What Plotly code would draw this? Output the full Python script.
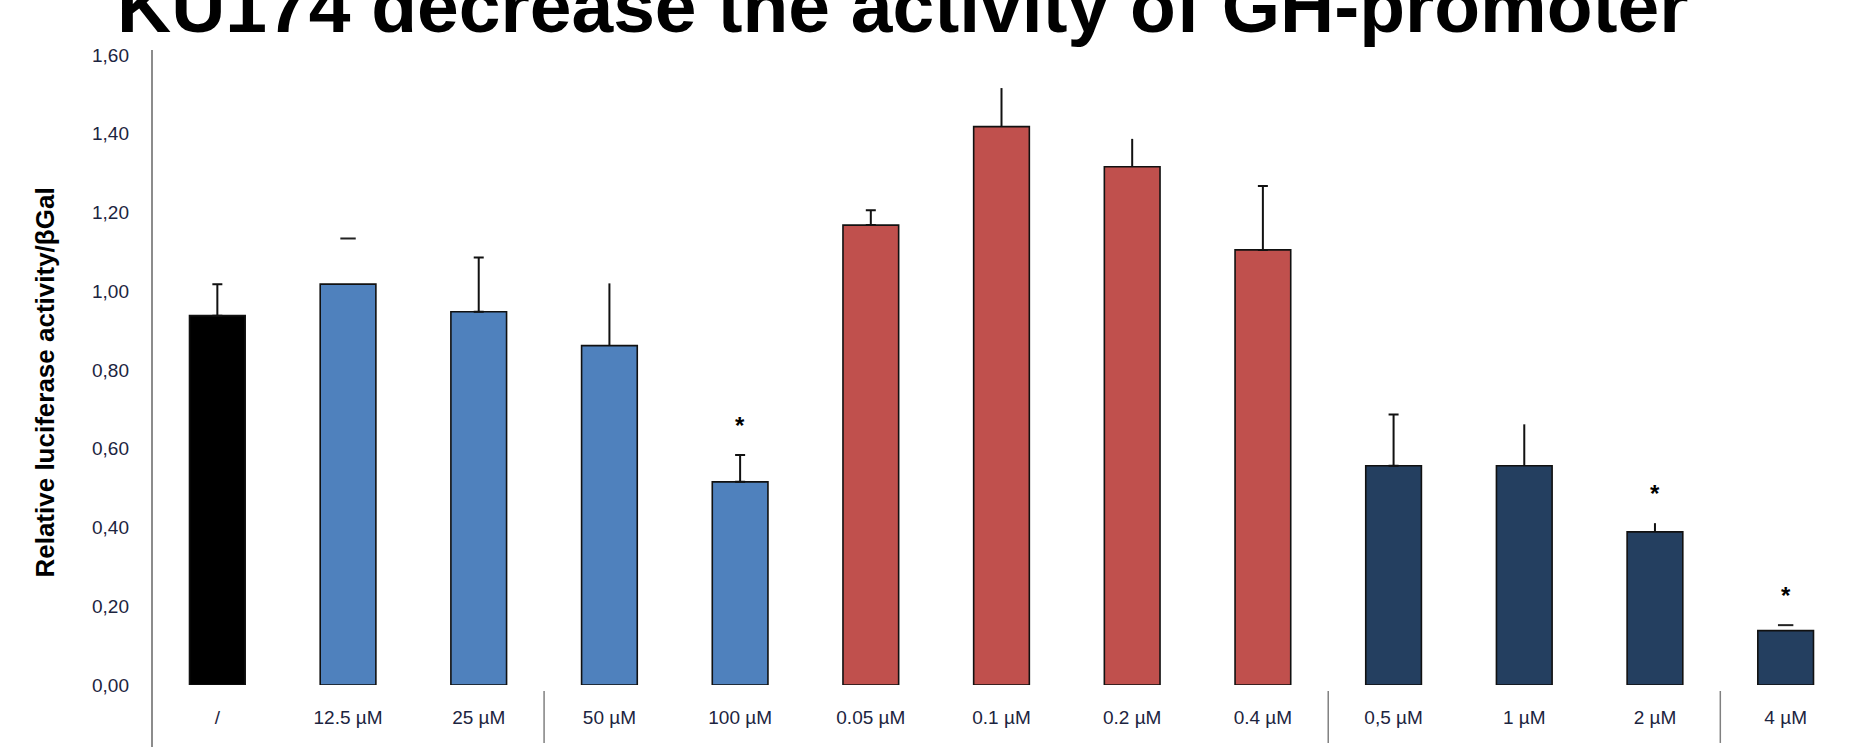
import plotly.graph_objects as go

# ---- data ----
categories = ["/", "12.5 µM", "25 µM", "50 µM", "100 µM", "0.05 µM", "0.1 µM",
              "0.2 µM", "0.4 µM", "0,5 µM", "1 µM", "2 µM", "4 µM"]
values = [0.938, 1.018, 0.948, 0.862, 0.516, 1.168, 1.418, 1.316, 1.105,
          0.557, 0.557, 0.389, 0.138]
errors = [0.080, 0.116, 0.138, 0.158, 0.068, 0.038, 0.098, 0.071, 0.162,
          0.130, 0.105, 0.022, 0.014]
# error bar style per bar: "cap" = whisker with cap, "line" = whisker w/o cap, "dash" = cap only
err_style = ["cap", "dash", "cap", "line", "cap", "cap", "line", "line", "cap",
             "cap", "line", "line", "dash"]
significant = [False, False, False, False, True, False, False, False, False,
               False, False, True, True]
group = ["ctrl", "a", "a", "a", "a", "b", "b", "b", "b", "c", "c", "c", "c"]
group_colors = {"ctrl": "#000000", "a": "#4F81BD", "b": "#C0504D", "c": "#243F60"}
separators_after = [2, 8, 11]
y_ticks = [0, 0.2, 0.4, 0.6, 0.8, 1.0, 1.2, 1.4, 1.6]
title_text = "KU174 decrease the activity of GH-promoter"
y_title = "Relative luciferase activity/βGal"

fig = go.Figure()

fig.add_trace(go.Bar(
    x=categories, y=values, width=0.426,
    marker=dict(color=[group_colors[g] for g in group],
                line=dict(color="#111111", width=1.6)),
    showlegend=False, hoverinfo="x+y",
))

for style, w in (("cap", 5), ("line", 0)):
    idx = [i for i, s in enumerate(err_style) if s == style]
    fig.add_trace(go.Scatter(
        x=[categories[i] for i in idx], y=[values[i] for i in idx],
        mode="markers", marker=dict(opacity=0, size=1),
        error_y=dict(type="data", symmetric=False,
                     array=[errors[i] for i in idx],
                     arrayminus=[0] * len(idx),
                     color="#111111", thickness=2, width=w),
        showlegend=False, hoverinfo="skip",
    ))

idx = [i for i, s in enumerate(err_style) if s == "dash"]
fig.add_trace(go.Scatter(
    x=[categories[i] for i in idx], y=[values[i] + errors[i] for i in idx],
    mode="markers",
    marker=dict(symbol="line-ew", size=11, line=dict(color="#222222", width=2)),
    showlegend=False, hoverinfo="skip",
))

annotations = []
for i, sig in enumerate(significant):
    if sig:
        annotations.append(dict(
            x=categories[i], y=values[i] + errors[i], xref="x", yref="y",
            text="<b>*</b>", showarrow=False, yanchor="middle", yshift=30,
            font=dict(family="Liberation Sans", size=24, color="#000000"),
        ))

annotations.append(dict(
    x=0.442, y=1, xref="paper", yref="paper", text="<b>%s</b>" % title_text,
    showarrow=False, xanchor="center", yanchor="bottom", yshift=5,
    font=dict(family="Liberation Sans", size=75, color="#000000"),
))
annotations.append(dict(
    x=-0.063, y=0.48, xref="paper", yref="paper", text="<b>%s</b>" % y_title,
    showarrow=False, textangle=-90, xanchor="center", yanchor="middle",
    font=dict(family="Liberation Sans", size=26, color="#000000"),
))

shapes = [dict(type="line", xref="paper", yref="paper", x0=0, x1=0,
               y0=-0.1, y1=1.008, line=dict(color="#8c8c8c", width=2))]
for s in separators_after:
    shapes.append(dict(type="line", xref="x", yref="paper", x0=s + 0.5, x1=s + 0.5,
                       y0=-0.0095, y1=-0.092, line=dict(color="#808080", width=1.5)))

fig.update_layout(
    width=1875, height=747,
    margin=dict(l=152, r=24, t=55, b=62),
    plot_bgcolor="white", paper_bgcolor="white",
    separators=",.",
    annotations=annotations, shapes=shapes,
    xaxis=dict(type="category", range=[-0.5, 12.5], showline=False, showgrid=False,
               zeroline=False, ticks="", ticklabelstandoff=19,
               tickfont=dict(family="Liberation Sans", size=19, color="#1c2440")),
    yaxis=dict(range=[0, 1.6], tickvals=y_ticks, tickformat=".2f", showline=False,
               showgrid=False, zeroline=False, ticks="", ticklabelstandoff=22,
               tickfont=dict(family="Liberation Sans", size=19, color="#1c2440")),
)

fig.write_html("out.html", config={"displayModeBar": False},
               post_script="document.body.style.margin='0';document.body.style.overflow='hidden';")
